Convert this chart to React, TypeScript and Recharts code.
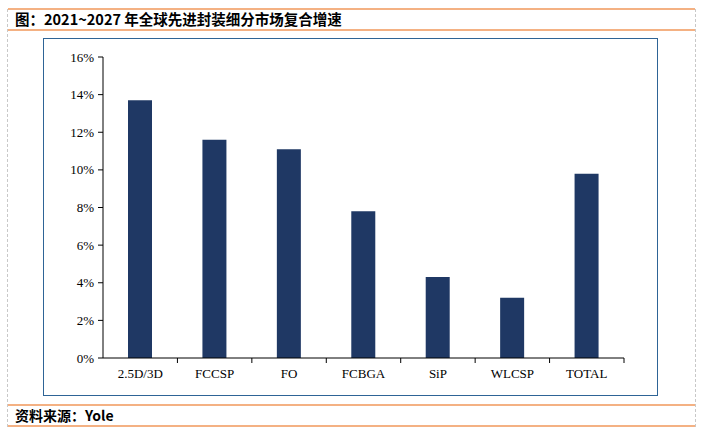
import { BarChart, Bar, XAxis, YAxis } from "recharts";

const categories = ["2.5D/3D", "FCCSP", "FO", "FCBGA", "SiP", "WLCSP", "TOTAL"];
const cagr = [13.7, 11.6, 11.1, 7.8, 4.3, 3.2, 9.8];
const yTicks = [0, 2, 4, 6, 8, 10, 12, 14, 16];

const data = categories.map((name, i) => ({ name, value: cagr[i] }));

const serif = "'Liberation Serif', 'Noto Sans CJK SC', serif";
const cjk = "'Noto Sans CJK SC', sans-serif";

// category label plus the boundary tick mark to its right
const CategoryTick = (props: any) => {
  const { x, y, payload, width, visibleTicksCount } = props;
  const half = width / visibleTicksCount / 2;
  const axisY = y - 11;
  return (
    <g>
      <line x1={x + half} x2={x + half} y1={axisY} y2={axisY + 5} stroke="#000" />
      <text x={x} y={y} dy="0.71em" textAnchor="middle" fontSize={13} fontFamily={serif} fill="#000">
        {payload.value}
      </text>
    </g>
  );
};

const App = () => {
  return (
    <div style={{ position: "absolute", left: 0, top: 0, width: 703, height: 433, background: "#fff" }}>
      {/* frame lines */}
      <div style={{ position: "absolute", left: 8, top: 8, width: 687, borderTop: "2px solid #F4B183" }} />
      <div style={{ position: "absolute", left: 8, top: 29, width: 687, borderTop: "2px solid #F4B183" }} />
      <div style={{ position: "absolute", left: 8, top: 404, width: 687, borderTop: "2px solid #F4B183" }} />
      <div style={{ position: "absolute", left: 8, top: 425, width: 687, borderTop: "2px solid #F4B183" }} />
      <div style={{ position: "absolute", left: 7, top: 9, height: 418, borderLeft: "1px dashed #c8c8c8" }} />
      <div style={{ position: "absolute", left: 695, top: 9, height: 418, borderLeft: "1px dashed #c8c8c8" }} />

      <div
        style={{
          position: "absolute",
          left: 15,
          top: 9,
          fontFamily: cjk,
          fontWeight: 700,
          fontSize: 14.5,
          lineHeight: "20px",
          color: "#000",
        }}
      >
        图：2021~2027 年全球先进封装细分市场复合增速
      </div>
      <div
        style={{
          position: "absolute",
          left: 15,
          top: 405,
          fontFamily: cjk,
          fontWeight: 700,
          fontSize: 14,
          lineHeight: "20px",
          color: "#000",
        }}
      >
        资料来源：Yole
      </div>

      {/* chart box */}
      <div
        style={{
          position: "absolute",
          left: 43,
          top: 38,
          width: 613,
          height: 356,
          border: "1px solid #2E6496",
        }}
      />
      <div style={{ position: "absolute", left: 43, top: 38 }}>
        <BarChart width={615} height={358} data={data} margin={{ top: 19, right: 34, bottom: 0, left: 0 }}>
          <XAxis
            dataKey="name"
            height={38}
            stroke="#000"
            tickLine={false}
            tickSize={5}
            tickMargin={6}
            interval={0}
            tick={<CategoryTick />}
          />
          <YAxis
            width={60}
            domain={[0, 16]}
            ticks={yTicks}
            interval={0}
            tickFormatter={(v: number) => `${v}%`}
            stroke="#000"
            tickSize={5}
            tickMargin={4}
            tick={{ fill: "#000", fontSize: 13, fontFamily: serif }}
          />
          <Bar dataKey="value" fill="#1F3864" barSize={24} isAnimationActive={false} />
        </BarChart>
      </div>
    </div>
  );
};

export default App;
